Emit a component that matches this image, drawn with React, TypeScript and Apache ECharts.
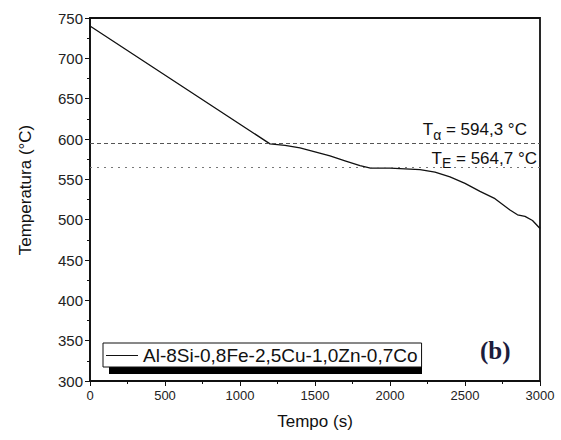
import React, { useEffect, useRef } from "react";
import * as echarts from "echarts";

const seriesName = "Al-8Si-0,8Fe-2,5Cu-1,0Zn-0,7Co";
const timeValues = [0, 1200, 1300, 1400, 1500, 1600, 1700, 1800, 1870, 2000, 2100, 2200, 2300, 2400, 2500, 2600, 2700, 2800, 2850, 2900, 2950, 3000];
const tempValues = [740, 594, 592, 589, 584, 579, 573, 567, 564, 564, 563, 562, 559, 553, 545, 535, 526, 512, 506, 504, 499, 489];
const tAlpha = 594.3;
const tE = 564.7;
const tAlphaLabel = "594,3 °C";
const tELabel = "564,7 °C";

const FONT = "'Liberation Sans', Arial, sans-serif";

export default function App() {
  const ref = useRef<HTMLDivElement>(null);
  useEffect(() => {
    if (!ref.current) return;
    const chart = echarts.init(ref.current, undefined, { renderer: "svg" });
    const data = timeValues.map((t, i) => [t, tempValues[i]]);
    const rich = {
      m: { fontFamily: FONT, fontSize: 17, color: "#111" },
      s: { fontFamily: FONT, fontSize: 14, color: "#111", verticalAlign: "bottom", padding: [10, 0, 0, 0] },
    };
    chart.setOption({
      animation: false,
      backgroundColor: "#fff",
      color: ["#111"],
      textStyle: { fontFamily: FONT },
      grid: { left: 90, right: 21, top: 18, bottom: 59, show: true, borderColor: "#111", borderWidth: 1.8 },
      legend: {
        left: 103,
        top: 343,
        orient: "horizontal",
        backgroundColor: "#fff",
        borderColor: "#111",
        borderWidth: 1,
        borderRadius: 0,
        padding: [3, 4, 2, 3],
        itemWidth: 32,
        itemHeight: 10,
        itemGap: 5,
        itemStyle: { color: "#111" },
        textStyle: { fontFamily: FONT, fontSize: 19, color: "#111" },
        data: [{ name: seriesName, icon: "path://M0,5 L32,5 L32,6 L0,6 Z" }],
      },
      graphic: [
        { type: "rect", left: 109, top: 349, shape: { width: 313, height: 25 }, style: { fill: "#000" }, z: 0 },
        {
          type: "text",
          left: 480,
          top: 338,
          style: { text: "(b)", font: "bold 25px 'Liberation Serif', 'Times New Roman', serif", fill: "#1c1c3c" },
        },
        {
          type: "text",
          x: 25,
          y: 190,
          rotation: Math.PI / 2,
          style: {
            text: "Temperatura (°C)",
            font: "17px 'Liberation Sans', Arial, sans-serif",
            fill: "#111",
            align: "center",
            verticalAlign: "middle",
          },
        },
      ],
      xAxis: {
        type: "value",
        min: 0,
        max: 3000,
        interval: 500,
        name: "Tempo (s)",
        nameLocation: "middle",
        nameGap: 32,
        nameTextStyle: { fontFamily: FONT, fontSize: 17, color: "#111" },
        axisLine: { lineStyle: { color: "#111", width: 1.5 } },
        axisTick: { inside: false, length: 5, lineStyle: { color: "#111" } },
        minorTick: { show: true, splitNumber: 2, length: 3, lineStyle: { color: "#111" } },
        splitLine: { show: false },
        axisLabel: { fontFamily: FONT, fontSize: 13, color: "#222", margin: 8, formatter: (v: number) => String(v) },
      },
      yAxis: {
        type: "value",
        min: 300,
        max: 750,
        interval: 50,
        axisLine: { show: true, lineStyle: { color: "#111", width: 1.5 } },
        axisTick: { show: true, inside: false, length: 5, lineStyle: { color: "#111" } },
        minorTick: { show: true, splitNumber: 2, length: 3, lineStyle: { color: "#111" } },
        splitLine: { show: false },
        axisLabel: { fontFamily: FONT, fontSize: 15, color: "#222", margin: 7 },
      },
      series: [
        {
          name: seriesName,
          type: "line",
          data,
          symbol: "none",
          itemStyle: { color: "#111" },
          lineStyle: { color: "#111", width: 1.3 },
          z: 3,
          markLine: {
            silent: true,
            symbol: "none",
            label: { show: false },
            data: [
              { yAxis: tAlpha, lineStyle: { color: "#555", type: [4, 3], width: 1 } },
              { yAxis: tE, lineStyle: { color: "#777", type: [2, 5], width: 1 } },
            ],
          },
        },
        {
          type: "scatter",
          data: [],
          silent: true,
          markPoint: {
            symbol: "rect",
            symbolSize: 0,
            data: [
              {
                coord: [2913, tAlpha],
                label: {
                  show: true,
                  position: [0, -26],
                  align: "right",
                  verticalAlign: "top",
                  formatter: "{m|T}{s|α}{m| = " + tAlphaLabel + "}",
                  rich,
                },
              },
              {
                coord: [2980, tE],
                label: {
                  show: true,
                  position: [0, -21],
                  align: "right",
                  verticalAlign: "top",
                  formatter: "{m|T}{s|E}{m| = " + tELabel + "}",
                  rich,
                },
              },
            ],
          },
        },
      ],
    });
    return () => chart.dispose();
  }, []);
  return <div ref={ref} style={{ width: 561, height: 440, position: "absolute", left: 0, top: 0 }} />;
}
